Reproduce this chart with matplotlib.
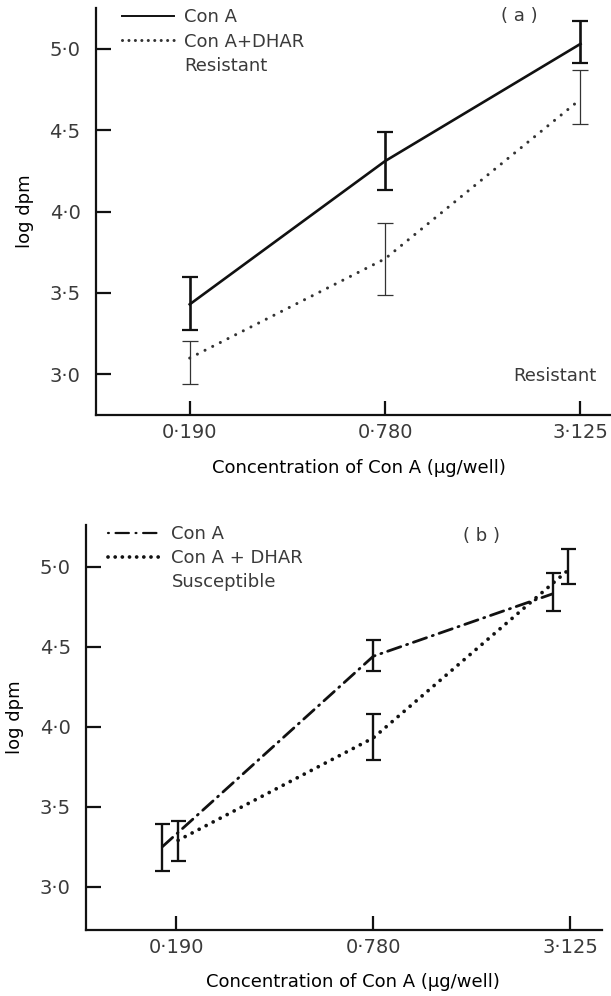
import matplotlib
matplotlib.use("Agg")
import matplotlib.pyplot as plt
import numpy as np
from matplotlib.lines import Line2D

plt.rcParams["font.family"] = ["DejaVu Sans"]
plt.rcParams["text.color"] = "#3a3a3a"

x_labels = ["0·190", "0·780", "3·125"]
y_ticks = [3.0, 3.5, 4.0, 4.5, 5.0]
y_labels = ["3·0", "3·5", "4·0", "4·5", "5·0"]

# (a) resistant
res_cona = [3.43, 4.31, 5.03]
res_cona_lo = [3.27, 4.13, 4.91]
res_cona_hi = [3.595, 4.49, 5.17]
res_dhar = [3.10, 3.71, 4.69]
res_dhar_lo = [2.94, 3.49, 4.54]
res_dhar_hi = [3.205, 3.93, 4.87]

# (b) susceptible
sus_cona = [3.25, 4.44, 4.83]
sus_cona_lo = [3.10, 4.35, 4.72]
sus_cona_hi = [3.39, 4.54, 4.96]
sus_dhar = [3.29, 3.93, 4.98]
sus_dhar_lo = [3.16, 3.79, 4.89]
sus_dhar_hi = [3.41, 4.08, 5.11]

# small horizontal offsets of the points in panel (b)
sus_cona_shift = [-0.07, 0.0, -0.09]
sus_dhar_shift = [0.01, 0.0, -0.01]

xpos = np.arange(3)
ink = "#111111"


def yerr(y, lo, hi):
    y = np.array(y)
    return [y - np.array(lo), np.array(hi) - y]


def style_axes(ax, xlim, ylim):
    ax.set_xlim(*xlim)
    ax.set_ylim(*ylim)
    for s in ["top", "right"]:
        ax.spines[s].set_visible(False)
    for s in ["left", "bottom"]:
        ax.spines[s].set_linewidth(1.6)
        ax.spines[s].set_color(ink)
    ax.set_xticks(xpos)
    ax.set_xticklabels(x_labels)
    ax.set_yticks(y_ticks)
    ax.set_yticklabels(y_labels)
    ax.tick_params(axis="y", direction="in", length=11, width=1.6, pad=11,
                   labelsize=14, labelcolor="#3a3a3a", color=ink)
    ax.tick_params(axis="x", direction="in", length=10, width=1.6, pad=6,
                   labelsize=14, labelcolor="#3a3a3a", color=ink)
    ax.set_ylabel("log dpm", fontsize=13)
    ax.set_xlabel("Concentration of Con A (\u03bcg/well)", fontsize=13)


fig = plt.figure(figsize=(6.11, 9.96), dpi=100)

# ---------- panel (a) ----------
ax1 = fig.add_axes([0.157, 0.5833, 0.841, 0.4086])
style_axes(ax1, (-0.48, 2.15), (2.75, 5.25))

ax1.errorbar(xpos, res_cona, yerr=yerr(res_cona, res_cona_lo, res_cona_hi),
             color=ink, lw=1.9, elinewidth=1.9, capsize=5.6, capthick=1.6)
ax1.errorbar(xpos, res_dhar, yerr=yerr(res_dhar, res_dhar_lo, res_dhar_hi),
             color="#333333", lw=2.2, ls=(0, (0.01, 2.8)), dash_capstyle="round",
             elinewidth=0.9, capsize=5.6, capthick=0.9)

h1 = Line2D([], [], color=ink, lw=1.4)
h2 = Line2D([], [], color="#333333", lw=2.2, ls=(0, (0.01, 2.1)), dash_capstyle="round")
h3 = Line2D([], [], ls="none")
ax1.legend([h1, h2, h3], ["Con A", "Con A+DHAR", "Resistant"], loc="upper left",
           bbox_to_anchor=(0.05, 1.0), frameon=False, fontsize=13, borderpad=0,
           borderaxespad=0, handlelength=2.9, handletextpad=0.55, labelspacing=0.36)
ax1.text(0.824, 0.98, "( a )", transform=ax1.transAxes, fontsize=13, ha="center", va="center")
ax1.text(0.975, 0.097, "Resistant", transform=ax1.transAxes, fontsize=13, ha="right", va="center")
ax1.xaxis.set_label_coords(0.512, -0.108)
ax1.yaxis.set_label_coords(-0.12, 0.50)

# ---------- panel (b) ----------
ax2 = fig.add_axes([0.1408, 0.0663, 0.8445, 0.4066])
style_axes(ax2, (-0.457, 2.16), (2.73, 5.26))

ax2.errorbar(xpos + np.array(sus_cona_shift), sus_cona,
             yerr=yerr(sus_cona, sus_cona_lo, sus_cona_hi),
             color=ink, lw=2.0, ls=(0, (5, 2.2, 0.4, 2.2)), dash_capstyle="round",
             elinewidth=1.7, capsize=5.4, capthick=1.6)
ax2.errorbar(xpos + np.array(sus_dhar_shift), sus_dhar,
             yerr=yerr(sus_dhar, sus_dhar_lo, sus_dhar_hi),
             color=ink, lw=2.7, ls=(0, (0.01, 2.1)), dash_capstyle="round",
             elinewidth=1.7, capsize=5.4, capthick=1.6)

g1 = Line2D([], [], color=ink, lw=1.6, ls=(0, (0.4, 3, 6, 3)), dash_capstyle="round")
g2 = Line2D([], [], color=ink, lw=2.7, ls=(0, (0.01, 1.9)), dash_capstyle="round")
g3 = Line2D([], [], ls="none")
ax2.legend([g1, g2, g3], ["Con A", "Con A + DHAR", "Susceptible"], loc="upper left",
           bbox_to_anchor=(0.043, 1.0), frameon=False, fontsize=13, borderpad=0,
           borderaxespad=0, handlelength=2.9, handletextpad=0.6, labelspacing=0.33)
ax2.text(0.766, 0.972, "( b )", transform=ax2.transAxes, fontsize=13, ha="center", va="center")
ax2.xaxis.set_label_coords(0.517, -0.106)
ax2.yaxis.set_label_coords(-0.12, 0.526)

fig.savefig("out.png", dpi=100)
